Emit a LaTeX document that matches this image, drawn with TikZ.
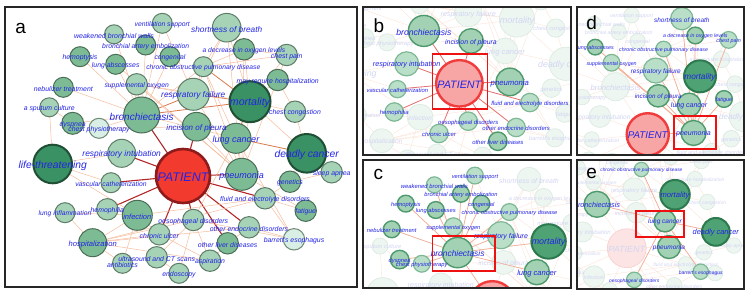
\documentclass[tikz,border=0pt]{standalone}
\usepackage{fontspec}
\setmainfont{Liberation Sans}

\definecolor{lblue}{HTML}{2424E6}
\definecolor{gz}{HTML}{D9EEE4}\definecolor{gzd}{HTML}{6E8C78}
\definecolor{gl}{HTML}{A6D3B6}\definecolor{gld}{HTML}{5E7D68}
\definecolor{gm}{HTML}{7DBB95}\definecolor{gmd}{HTML}{4A6E56}
\definecolor{gd}{HTML}{3A9163}\definecolor{gdd}{HTML}{214F35}
\definecolor{pr}{HTML}{F23A2E}\definecolor{prd}{HTML}{8E1B1B}
\definecolor{edr}{HTML}{B3272A}
\definecolor{edm}{HTML}{D8784C}
\definecolor{edo}{HTML}{F5BC9C}
\definecolor{ghf}{HTML}{EEF6F1}\definecolor{ghd}{HTML}{DCEBE1}
\definecolor{ghpf}{HTML}{FCE4E4}\definecolor{ghpd}{HTML}{F9D0D0}
\definecolor{ghl}{HTML}{D3D6F2}
\definecolor{ghe}{HTML}{FBE3D8}
\definecolor{hlf}{HTML}{BADFC8}\definecolor{hld}{HTML}{7DB895}
\definecolor{hmf}{HTML}{A2D1B4}\definecolor{hmd}{HTML}{4E9A6C}
\definecolor{hdf}{HTML}{4FA274}\definecolor{hdd}{HTML}{2C7A4E}
\definecolor{hpf}{HTML}{F8A5A5}\definecolor{hpd}{HTML}{F03C3C}
\definecolor{hle}{HTML}{F2AE96}
\definecolor{hlr}{HTML}{E57373}
\definecolor{boxred}{HTML}{EE1111}

\pgfdeclarelayer{fadeedge}
\pgfdeclarelayer{fadenode}
\pgfdeclarelayer{edge}
\pgfsetlayers{fadeedge,fadenode,edge,main}

\tikzset{
  nd/.style={circle, inner sep=0pt, outer sep=0pt, line width=1pt},
  kz/.style={nd, fill=gz, draw=gzd},
  kl/.style={nd, fill=gl, draw=gld},
  km/.style={nd, fill=gm, draw=gmd},
  kd/.style={nd, fill=gd, draw=gdd, line width=2pt},
  kp/.style={nd, fill=pr, draw=prd, line width=2.6pt},
  ghostkz/.style={nd, fill=ghf, draw=ghd, line width=0.7pt},
  ghostkl/.style={ghostkz},
  ghostkm/.style={ghostkz},
  ghostkd/.style={ghostkz},
  ghostkp/.style={nd, fill=ghpf, draw=ghpd, line width=0.7pt},
  hkz/.style={nd, fill=hlf, draw=hld, line width=1.2pt},
  hkl/.style={hkz},
  hkm/.style={nd, fill=hmf, draw=hmd, line width=1.4pt},
  hkd/.style={nd, fill=hdf, draw=hdd, line width=2pt},
  hkp/.style={nd, fill=hpf, draw=hpd, line width=2.4pt},
  lbl/.style={text=lblue, inner sep=0pt, yshift=-1.5pt},
  ghostlbl/.style={lbl, text=ghl},
  er/.style={draw=edr, line width=1.1pt},
  em/.style={draw=edm, line width=0.8pt},
  eo/.style={draw=edo, line width=0.5pt},
  ghostedge/.style={draw=ghe, line width=0.4pt},
  hledge/.style={draw=hle, line width=0.7pt},
  hibox/.style={draw=boxred, line width=1.6pt},
  frame/.style={draw=black!85, line width=1.5pt},
  panelno/.style={font=\fontsize{19}{19}\selectfont, inner sep=0pt}
}

% name/x/y/radius/kind/font size/label
\def\graphnodes{%
pat/183/176/27/kp/12.5/PATIENT,
bron/141.7/115/18/km/10/bronchiectasis,
rfail/193.3/94.3/16/kl/8.3/respiratory failure,
mort/250/101.7/20.5/kd/10.6/mortality,
incis/196.5/126.7/14.3/km/8/incision of pleura,
lcanc/236/138.3/15/km/9/lung cancer,
dcanc/306.7/153.3/19.3/kd/10.3/deadly cancer,
pneu/241.7/174.3/16/km/9/pneumonia,
life/52.7/164/19.3/kd/10.3/life-threatening,
rint/121.7/153.3/14/kl/8.4/respiratory intubation,
vasc/111/182.7/10/kl/6.8/vascular catheterization,
hemo/107.3/209.3/10.7/kl/6.9/hemophilia,
linf/65/212.7/10/kl/6.7/lung inflammation,
infec/137.3/215.3/15/km/7.5/infection,
hosp/92.7/242.7/14/km/7.6/hospitalization,
culc/159.3/234.3/10.7/kl/6.9/chronic ulcer,
oeso/193.3/220/10.7/kl/6.9/oesophageal disorders,
anti/122.5/263.3/10/kl/6.9/antibiotics,
ultra/156.7/257.3/10.7/kl/6.9/ultrasound and CT scans,
endo/179/273.3/10/kl/6.9/endoscopy,
asp/210/260.7/10.7/kl/6.9/aspiration,
oliv/227.7/243.3/10.7/km/6.9/other liver diseases,
oend/249/227.3/10.7/kl/6.9/other endocrine disorders,
fluid/265/198.3/10.7/kl/6.9/fluid and electrolyte disorders,
gene/290/181.7/10.7/km/6.9/genetics,
sleep/331.7/172.3/10.7/kl/6.9/sleep apnea,
fatig/305.7/210.7/10.7/km/6.9/fatigue,
barr/294/239.3/10.7/kz/6.9/barrett's esophagus,
short/226.7/27.7/14.3/kl/8.3/shortness of breath,
decox/244/49.3/10.7/km/6.7/a decrease in oxygen levels,
cpain/286.7/55/10.7/kl/6.9/chest pain,
copd/203.3/66.7/10/kl/6.7/chronic obstructive pulmonary disease,
mayh/277.7/80/10.7/km/6.9/may require hospitalization,
ccong/295/111.7/10.7/kl/6.9/chest congestion,
vent/162.3/23.3/10/kl/6.8/ventilation support,
weak/114/34.3/9.5/kl/7/weakened bronchial walls,
baemb/145.7/45/10/km/6.8/bronchial artery embolization,
cong/170/56.7/10/km/6.8/congenital,
hemop/80/56.7/10/km/6.9/hemoptysis,
labs/115.7/64.3/10/km/6.9/lung abscesses,
soxy/136.7/84.3/10.7/kl/6.8/supplemental oxygen,
nebu/63.3/87.3/10/km/6.9/nebulizer treatment,
sput/49.3/107.3/9.5/kl/6.9/a sputum culture,
dysp/72.7/123.3/11/km/6.9/dyspnea,
cphys/99/128.3/10/kz/6.9/chest physiotherapy}

% from/to/kind
\def\graphedges{%
pat/bron/r, pat/incis/r, pat/rint/r, pat/vasc/r, pat/hemo/r, pat/culc/r,
pat/oeso/r, pat/oliv/r, pat/oend/r, pat/fluid/r, pat/pneu/r,
lcanc/dcanc/m, bron/rfail/m, rfail/mort/m, copd/mort/m, lcanc/mort/m, bron/mort/m,
bron/weak/o, bron/hemop/o, bron/labs/o, bron/soxy/o, bron/nebu/o, bron/dysp/o,
bron/cphys/o, bron/vent/o, bron/baemb/o, bron/cong/o, bron/copd/o, bron/lcanc/o,
mort/short/o, mort/decox/o, mort/cpain/o, mort/mayh/o, mort/ccong/o, mort/dcanc/o,
mort/pneu/o, mort/soxy/o, rfail/copd/o, rfail/short/o, rfail/soxy/o, rfail/vent/o,
rfail/pneu/o, copd/short/o, copd/cpain/o, decox/cpain/o, copd/decox/o, copd/pneu/o,
lcanc/pneu/o, lcanc/barr/o, lcanc/oeso/o, lcanc/copd/o,
pneu/short/o, pneu/decox/o, pneu/cpain/o, pneu/labs/o, pneu/soxy/o, pneu/incis/o, pneu/fatig/o,
dcanc/gene/o, dcanc/sleep/o, dcanc/ccong/o,
fluid/fatig/o, fluid/barr/o, fluid/gene/o, fluid/hosp/o, fluid/infec/o,
oend/barr/o, oend/oliv/o, oend/hosp/o,
oeso/endo/o, oeso/asp/o, oeso/hosp/o, oeso/ultra/o, oeso/barr/o,
infec/hosp/o, infec/linf/o, infec/hemo/o, infec/anti/o, infec/culc/o, infec/life/o,
hosp/culc/o, hosp/linf/o, hosp/anti/o, hosp/asp/o,
life/vasc/o, life/rint/o, life/sput/o, culc/asp/o, ultra/endo/o, oliv/asp/o,
sput/dysp/o, cphys/incis/o, mayh/ccong/o, gene/sleep/o, short/decox/o}

% #1 prefix, #2 clip, #3 view, #4 centre, #5 neighbours, #6 moved nodes, #7 extra
\newcommand\drawview[7]{%
  \foreach \n in {#4,#5}{\expandafter\gdef\csname hl#1\n\endcsname{}}%
  \foreach \n in {#6}{\expandafter\gdef\csname mv#1\n\endcsname{}}%
  \begin{pgfonlayer}{fadenode}
    \begin{scope}
      \clip #2;
      \begin{scope}[#3, transform shape]
        \foreach \n/\x/\y/\r/\k/\f/\t in \graphnodes {
          \ifcsname hl#1\n\endcsname\else
            \node[ghost\k, minimum size=2*\r pt] (#1\n) at (\x,\y) {};
          \fi
        }
        \foreach \n/\x/\y/\r/\k/\f/\t in \graphnodes {
          \ifcsname hl#1\n\endcsname\else
            \node[ghostlbl, font=\fontsize{\f}{\f}\selectfont\itshape] (#1\n-t) at (#1\n) {\t};
          \fi
        }
      \end{scope}
    \end{scope}
  \end{pgfonlayer}
  \begin{scope}
    \clip #2;
    \begin{scope}[#3, transform shape]
      \foreach \n/\x/\y/\r/\k/\f/\t in \graphnodes {
        \ifcsname hl#1\n\endcsname\ifcsname mv#1\n\endcsname\else
          \node[h\k, minimum size=2*\r pt] (#1\n) at (\x,\y) {};
        \fi\fi
      }
      \foreach \n/\x/\y/\r/\k/\f/\t in \graphnodes {
        \ifcsname hl#1\n\endcsname\ifcsname mv#1\n\endcsname\else
          \node[lbl, font=\fontsize{\f}{\f}\selectfont\itshape] (#1\n-t) at (#1\n) {\t};
        \fi\fi
      }
    \end{scope}
  \end{scope}
  #7
  \begin{pgfonlayer}{fadeedge}
    \begin{scope}
      \clip #2;
      \foreach \u/\v/\k in \graphedges {\draw[ghostedge] (#1\u) -- (#1\v);}
    \end{scope}
  \end{pgfonlayer}
  \begin{pgfonlayer}{edge}
    \begin{scope}
      \clip #2;
      \foreach \v in {#5} {\draw[hledge] (#1#4) -- (#1\v);}
    \end{scope}
  \end{pgfonlayer}
}

\begin{document}
\begin{tikzpicture}[x=1pt, y=-1pt]
\useasboundingbox (0,0) rectangle (747,292);

% panel a: whole network
\foreach \n/\x/\y/\r/\k/\f/\t in \graphnodes {
  \node[\k, minimum size=2*\r pt] (a-\n) at (\x,\y) {};
}
\foreach \n/\x/\y/\r/\k/\f/\t in \graphnodes {
  \node[lbl, font=\fontsize{\f}{\f}\selectfont\itshape] (a-\n-t) at (a-\n) {\t};
}
\begin{pgfonlayer}{edge}
  \foreach \u/\v/\k in \graphedges {\draw[e\k] (a-\u) -- (a-\v);}
\end{pgfonlayer}

% panel b: PATIENT
\begin{scope}[hledge/.style={draw=hlr, line width=0.8pt}]
\drawview{b-}{(363,7) rectangle (571,155)}{shift={(302,-68)}, scale=0.86}
  {pat}{bron,incis,rint,vasc,hemo,pneu,fluid,oeso,culc,oend,oliv}{}
  {\draw[hibox] (432.3,54) rectangle (487.3,109);}
\end{scope}

% panel c: bronchiectasis
\drawview{c-}{(363,160) rectangle (571,288)}{shift={(338.6,156)}, scale=0.84}
  {bron}{vent,weak,baemb,hemop,cong,labs,copd,soxy,nebu,rfail,mort,dysp,cphys,lcanc,pat}{}
  {\draw[hibox] (432.3,235.7) rectangle (495,271);}

% panel d: pneumonia
\drawview{d-}{(577,7) rectangle (744,155)}{shift={(505,-3)}, scale=0.78}
  {pneu}{short,decox,cpain,labs,copd,soxy,rfail,mort,incis,lcanc,fatig,pat}{fatig}
  {\node[hkm, minimum size=16.7pt] (d-fatig) at (724,99) {};
   \node[lbl, font=\fontsize{5.4}{5.4}\selectfont\itshape] (d-fatig-t) at (d-fatig) {fatigue};
   \draw[hibox] (674,116) rectangle (715.7,149);}

% panel e: lung cancer
\drawview{e-}{(577,160) rectangle (744,289)}{shift={(495,121.5)}, scale=0.72}
  {lcanc}{mort,bron,dcanc,pneu,copd,barr,oeso}{barr}
  {\node[hkz, minimum size=15.4pt] (e-barr) at (700.7,271.7) {};
   \node[lbl, font=\fontsize{5}{5}\selectfont\itshape] (e-barr-t) at (e-barr) {barrett's esophagus};
   \draw[hibox] (636,210.7) rectangle (684,236.7);}

% frames and panel letters
\draw[frame] (5,7) rectangle (357,287);
\draw[frame] (363,7) rectangle (571,155);
\draw[frame] (363,160) rectangle (571,288);
\draw[frame] (577,7) rectangle (744,155);
\draw[frame] (577,160) rectangle (744,289);
\node[panelno] (la) at (20.7,28.3) {a};
\node[panelno] (lb) at (379,26) {b};
\node[panelno] (lc) at (378.3,174.3) {c};
\node[panelno] (ld) at (591.7,22.7) {d};
\node[panelno] (le) at (591.7,173.3) {e};
\end{tikzpicture}
\end{document}
